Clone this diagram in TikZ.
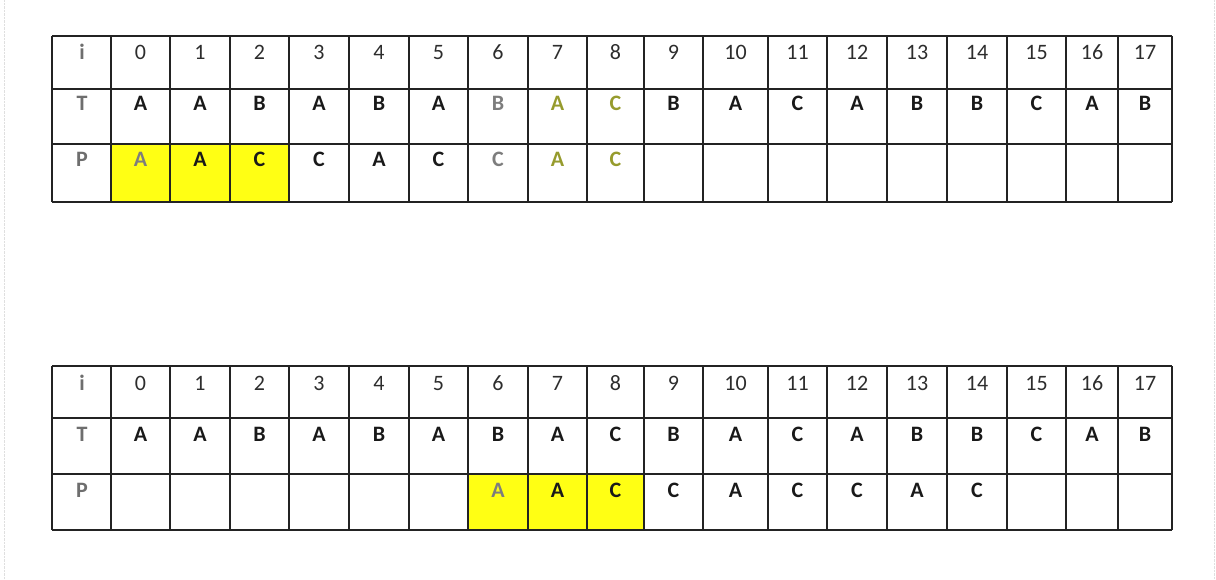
\documentclass[tikz,border=0pt]{standalone}
\usepackage{fontspec}
\setmainfont{Carlito}
\usepackage{tikz}
\usetikzlibrary{positioning}
\definecolor{cellYellow}{RGB}{255,255,20}
\definecolor{headGray}{RGB}{45,45,45}
\definecolor{labelGray}{RGB}{110,110,110}
\definecolor{fadeGray}{RGB}{125,125,125}
\definecolor{fadeOlive}{RGB}{150,155,45}
\definecolor{gridColor}{RGB}{35,35,35}
\definecolor{letterBlack}{RGB}{25,25,25}

\tikzset{
    gridline/.style={draw=gridColor, line width=1.7pt},
    numtext/.style={anchor=base, inner sep=0pt, font=\fontsize{22}{24}\selectfont, text=headGray},
    rowlabel/.style={numtext, font=\fontsize{22}{24}\selectfont\bfseries, text=labelGray},
    lettext/.style={anchor=base, inner sep=0pt, font=\fontsize{22}{24}\selectfont\bfseries},
}
\def\colmid{{82,140.5,200,259.5,319,379,438.5,498,557.5,615.5,673.5,735.5,797.5,857,917,977,1036.5,1092,1145}}
\def\colbnd{52,111,170,230,289,349,409,468,528,587,644,703,768,827,887,947,1007,1066,1118,1172}

\begin{document}
\begin{tikzpicture}[x=1pt, y=-1pt]
    \useasboundingbox (0,0) rectangle (1216,580);
    % faint page edges
    \draw[gray!25, densely dotted] (4,0) -- (4,580);
    \draw[gray!25, densely dotted] (1214,0) -- (1214,580);

    % Top table: pattern at shift 0
    \fill[cellYellow] (111,144) rectangle (289,202);
    \foreach \x in \colbnd
        \draw[gridline] (\x,36) -- (\x,202);
    \foreach \y in {36,89,144,202}
        \draw[gridline] (52,\y) -- (1172,\y);

    \node[rowlabel] (a-i) at (82,60) {i};
    \node[rowlabel] (a-T) at (82,111) {T};
    \node[rowlabel] (a-P) at (82,167) {P};
    \foreach \k in {0,...,17} {
        \pgfmathsetmacro\cx{\colmid[\k+1]}
        \node[numtext] (a-i-\k) at (\cx,60) {\k};
    }
    \foreach \v/\c [count=\k from 0] in {A/letterBlack,A/letterBlack,B/letterBlack,A/letterBlack,B/letterBlack,A/letterBlack,B/fadeGray,A/fadeOlive,C/fadeOlive,B/letterBlack,A/letterBlack,C/letterBlack,A/letterBlack,B/letterBlack,B/letterBlack,C/letterBlack,A/letterBlack,B/letterBlack} {
        \pgfmathsetmacro\cx{\colmid[\k+1]}
        \node[lettext, text=\c] (a-T-\k) at (\cx,111) {\v};
    }
    \foreach \v/\c [count=\k from 0] in {A/fadeGray,A/letterBlack,C/letterBlack,C/letterBlack,A/letterBlack,C/letterBlack,C/fadeGray,A/fadeOlive,C/fadeOlive} {
        \pgfmathsetmacro\cx{\colmid[\k+1]}
        \node[lettext, text=\c] (a-P-\k) at (\cx,167) {\v};
    }

    % Bottom table: pattern at shift 6
    \fill[cellYellow] (468,474) rectangle (644,530);
    \foreach \x in \colbnd
        \draw[gridline] (\x,366) -- (\x,530);
    \foreach \y in {366,418,474,530}
        \draw[gridline] (52,\y) -- (1172,\y);

    \node[rowlabel] (b-i) at (82,390) {i};
    \node[rowlabel] (b-T) at (82,441) {T};
    \node[rowlabel] (b-P) at (82,497) {P};
    \foreach \k in {0,...,17} {
        \pgfmathsetmacro\cx{\colmid[\k+1]}
        \node[numtext] (b-i-\k) at (\cx,390) {\k};
    }
    \foreach \v [count=\k from 0] in {A,A,B,A,B,A,B,A,C,B,A,C,A,B,B,C,A,B} {
        \pgfmathsetmacro\cx{\colmid[\k+1]}
        \node[lettext, text=letterBlack] (b-T-\k) at (\cx,441) {\v};
    }
    \foreach \v/\c [count=\k from 6] in {A/fadeGray,A/letterBlack,C/letterBlack,C/letterBlack,A/letterBlack,C/letterBlack,C/letterBlack,A/letterBlack,C/letterBlack} {
        \pgfmathsetmacro\cx{\colmid[\k+1]}
        \node[lettext, text=\c] (b-P-\k) at (\cx,497) {\v};
    }
\end{tikzpicture}
\end{document}
